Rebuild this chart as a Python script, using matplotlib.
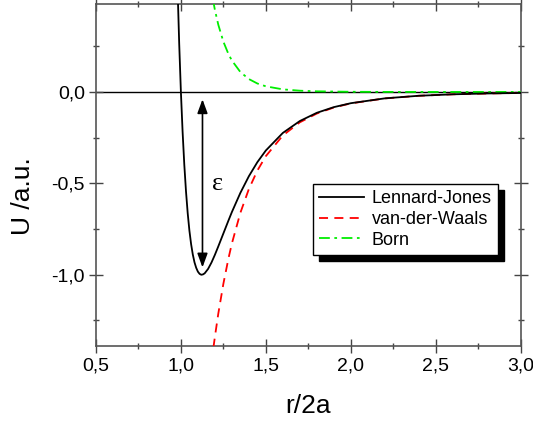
import matplotlib
matplotlib.use('Agg')
import matplotlib.pyplot as plt
from matplotlib.ticker import FixedLocator

plt.rcParams['font.family'] = ['Liberation Sans', 'DejaVu Sans']

# values
r_lj = [0.97, 0.98, 0.99, 1.00, 1.01, 1.02, 1.03, 1.04, 1.05, 1.06, 1.07, 1.08,
        1.09, 1.10, 1.11, 1.12, 1.13, 1.14, 1.16, 1.18, 1.20, 1.22, 1.25, 1.28,
        1.30, 1.35, 1.40, 1.45, 1.50, 1.60, 1.70, 1.80, 1.90, 2.00, 2.20, 2.40,
        2.60, 2.80, 3.00]
u_lj = [0.963, 0.582, 0.264, 0.0, -0.218, -0.398, -0.544, -0.663, -0.758, -0.832,
        -0.889, -0.932, -0.962, -0.983, -0.995, -1.000, -0.998, -0.992, -0.968,
        -0.933, -0.891, -0.845, -0.774, -0.703, -0.657, -0.552, -0.461, -0.384,
        -0.320, -0.224, -0.159, -0.114, -0.083, -0.0615, -0.035, -0.0208,
        -0.0129, -0.0083, -0.0055]

r_vdw = [1.18, 1.19, 1.20, 1.22, 1.25, 1.28, 1.30, 1.35, 1.40, 1.45, 1.50, 1.60,
         1.70, 1.80, 1.90, 2.00, 2.20, 2.40, 2.60, 2.80, 3.00]
u_vdw = [-1.482, -1.408, -1.340, -1.213, -1.049, -0.910, -0.829, -0.661, -0.531,
         -0.430, -0.351, -0.238, -0.166, -0.118, -0.085, -0.0625, -0.0353,
         -0.0209, -0.0129, -0.0083, -0.0055]

r_born = [1.17, 1.18, 1.20, 1.22, 1.25, 1.28, 1.30, 1.35, 1.40, 1.45, 1.50, 1.60,
          1.70, 1.80, 2.00, 2.20, 2.50, 3.00]
u_born = [0.605, 0.549, 0.449, 0.368, 0.275, 0.207, 0.172, 0.109, 0.0706, 0.0463,
          0.0308, 0.0142, 0.0069, 0.0035, 0.001, 0.0003, 0.0, 0.0]

xticks = [0.5, 1.0, 1.5, 2.0, 2.5, 3.0]
xtick_labels = ['0,5', '1,0', '1,5', '2,0', '2,5', '3,0']
xminor = [0.75, 1.25, 1.75, 2.25, 2.75]
yticks = [-1.0, -0.5, 0.0]
ytick_labels = ['-1,0', '-0,5', '0,0']
yminor = [-1.25, -0.75, -0.25, 0.25]

eps_top = -0.04
eps_bottom = -0.96
eps_x = 1.127

fig = plt.figure(figsize=(5.33, 4.21), dpi=100)
ax = fig.add_axes([0.180, 0.178, 0.797, 0.812])

ax.axhline(0.0, color='k', lw=1.0, zorder=1)
ax.plot(r_lj, u_lj, color='k', lw=1.3, label='Lennard-Jones', zorder=4)
ax.plot(r_vdw, u_vdw, color='#ff0000', lw=1.3, dashes=(5, 3.5),
        label='van-der-Waals', zorder=3)
ax.plot(r_born, u_born, color='#00ee00', lw=1.3, dashes=(6, 2.5, 1.5, 2.5),
        label='Born', zorder=3)

ax.annotate('', xy=(eps_x, eps_bottom), xytext=(eps_x, eps_top),
            arrowprops=dict(arrowstyle='<|-|>,head_length=0.6,head_width=0.22',
                            color='k', lw=1.2, mutation_scale=14,
                            shrinkA=0, shrinkB=0))
ax.text(1.218, -0.504, 'ε', family='Liberation Serif', fontsize=19,
        ha='center', va='center')

ax.set_xlim(0.5, 3.0)
ax.set_ylim(-1.39, 0.48)

ax.xaxis.set_major_locator(FixedLocator(xticks))
ax.set_xticklabels(xtick_labels)
ax.xaxis.set_minor_locator(FixedLocator(xminor))
ax.yaxis.set_major_locator(FixedLocator(yticks))
ax.set_yticklabels(ytick_labels)
ax.yaxis.set_minor_locator(FixedLocator(yminor))

ax.tick_params(which='both', direction='inout', top=True, right=True,
               labelsize=14, color='#444444', pad=3)
ax.tick_params(which='major', length=10, width=1)
ax.tick_params(which='minor', length=5, width=1)
for s in ax.spines.values():
    s.set_color('#555555')
    s.set_linewidth(1.2)

ax.set_xlabel('r/2a', fontsize=19)
ax.set_ylabel('U /a.u.', fontsize=19)
ax.xaxis.set_label_coords(0.5, -0.14)
ax.yaxis.set_label_coords(-0.1435, 0.44)

leg = ax.legend(loc='upper left', bbox_to_anchor=(0.511, 0.474), fontsize=13,
                fancybox=False, framealpha=1, edgecolor='k', handlelength=2.5,
                borderaxespad=0, labelspacing=0.2, handletextpad=0.4,
                borderpad=0.35,
                shadow={'ox': 4.5, 'oy': -4.5, 'facecolor': 'black',
                        'edgecolor': 'black', 'alpha': 1})
leg.get_frame().set_linewidth(1.0)

plt.savefig('out.png', dpi=100)
